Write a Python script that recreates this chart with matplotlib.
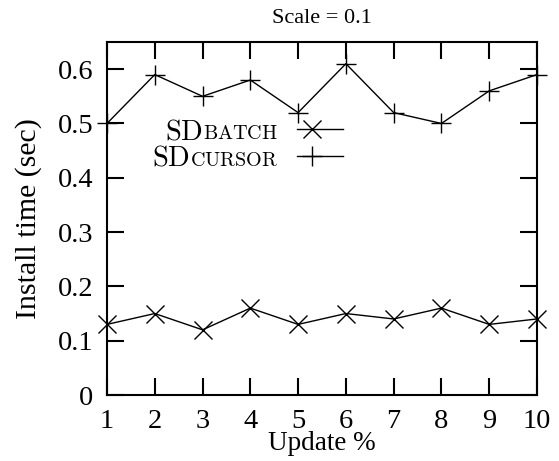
import matplotlib
matplotlib.use("Agg")
import matplotlib.pyplot as plt

plt.rcParams['font.family'] = ['Liberation Serif', 'DejaVu Serif']
plt.rcParams['mathtext.fontset'] = 'cm'

update_pct = [1, 2, 3, 4, 5, 6, 7, 8, 9, 10]
sd_batch = [0.13, 0.15, 0.12, 0.16, 0.13, 0.15, 0.14, 0.16, 0.13, 0.14]
sd_cursor = [0.50, 0.59, 0.55, 0.58, 0.52, 0.61, 0.52, 0.50, 0.56, 0.59]
y_ticks = [0, 0.1, 0.2, 0.3, 0.4, 0.5, 0.6]

fig = plt.figure(figsize=(5.59, 4.61), dpi=100)
ax = fig.add_axes([107 / 559, 1 - 395 / 461, 430 / 559, 353 / 461])

ax.plot(update_pct, sd_batch, color='black', lw=1, marker='x', ms=13, mew=1, clip_on=False)
ax.plot(update_pct, sd_cursor, color='black', lw=1, marker='+', ms=14, mew=1, clip_on=False)

ax.set_xlim(1, 10)
ax.set_ylim(0, 0.65)
ax.set_xticks(update_pct)
ax.set_yticks(y_ticks)
ax.set_yticklabels([f"{t:g}" for t in y_ticks])
ax.tick_params(direction='in', length=12, width=1.5, top=True, right=True,
               labelsize=20.5)
ax.tick_params(axis='x', pad=10)
ax.tick_params(axis='y', pad=10)
for s in ax.spines.values():
    s.set_linewidth(1.5)

ax.set_title("Scale = 0.1", fontsize=16, pad=14)
ax.set_xlabel("Update %", fontsize=19.5, labelpad=-2)
ax.set_ylabel("Install time (sec)", fontsize=21.5, labelpad=11)

# legend with small caps labels
def legend_row(y, big, small, marker, ms):
    t = ax.text(0.398, y, r"$\mathrm{" + small + "}$", transform=ax.transAxes,
                fontsize=14.5, ha='right', va='baseline')
    fig.canvas.draw()
    bb = t.get_window_extent()
    x0 = ax.transAxes.inverted().transform((bb.x0, bb.y0))[0]
    ax.text(x0, y, r"$\mathrm{" + big + "}$", transform=ax.transAxes,
            fontsize=20.5, ha='right', va='baseline')
    ax.plot([0.442, 0.549], [y + 0.028, y + 0.028], transform=ax.transAxes,
            color='black', lw=1, clip_on=False)
    ax.plot([0.477], [y + 0.028], transform=ax.transAxes, color='black',
            marker=marker, ms=ms, mew=1, clip_on=False)

legend_row(0.725, "SD", "BATCH", 'x', 13)
legend_row(0.649, "SD", "CURSOR", '+', 14)

fig.savefig("out.png", dpi=100)
